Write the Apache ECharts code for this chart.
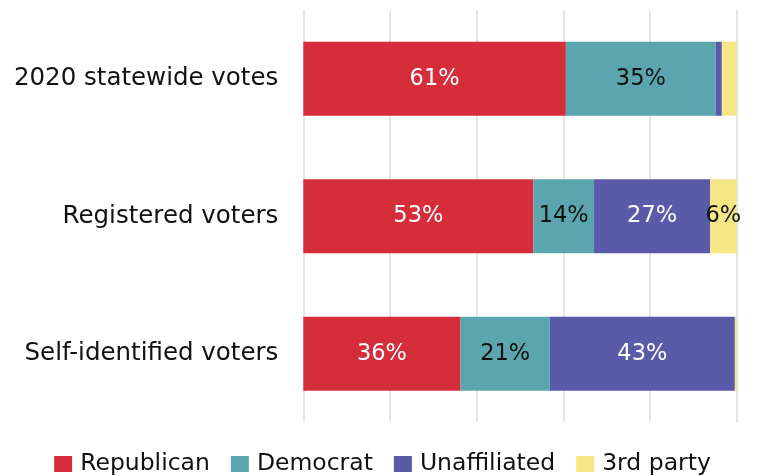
<!DOCTYPE html>
<html><head><meta charset="utf-8">
<script src="https://cdn.jsdelivr.net/npm/echarts@6/dist/echarts.min.js"></script>
<style>html,body{margin:0;padding:0;background:#fff}#c{width:765px;height:476px}</style>
</head><body><div id="c"></div>
<script>
const categories = ['2020 statewide votes', 'Registered voters', 'Self-identified voters'];
const seriesNames = ['Republican', 'Democrat', 'Unaffiliated', '3rd party'];
const republican = [60.6, 53.1, 36.3];
const democrat = [34.6, 14.0, 20.6];
const unaffiliated = [1.4, 26.8, 42.7];
const thirdParty = [3.4, 6.1, 0.4];
const xTicks = [0, 20, 40, 60, 80, 100];

const colors = ['#d62d3b', '#5ba6ae', '#5a5ba8', '#f5e884'];
const labelColors = ['#ffffff', '#111111', '#ffffff', '#111111'];
const values = [republican, democrat, unaffiliated, thirdParty];
const FONT = 'DejaVu Sans';

const chart = echarts.init(document.getElementById('c'));
chart.setOption({
  animation: false,
  textStyle: {fontFamily: FONT},
  grid: {left: 303.3, width: 433.3, top: 10, height: 412.5, containLabel: false},
  legend: {
    top: 447, left: 'center',
    itemWidth: 18, itemHeight: 16, itemGap: 21,
    icon: 'rect',
    textStyle: {fontFamily: FONT, fontSize: 23.5, color: '#111', padding: [0, 0, 0, 3]},
    data: seriesNames
  },
  xAxis: {
    type: 'value', min: xTicks[0], max: xTicks[xTicks.length - 1], interval: 20,
    axisLabel: {show: false}, axisLine: {show: false}, axisTick: {show: false},
    splitLine: {lineStyle: {color: '#dcdcdc', width: 1.5}}
  },
  yAxis: {
    type: 'category', data: categories, inverse: true,
    axisLine: {show: false}, axisTick: {show: false},
    axisLabel: {fontFamily: FONT, fontSize: 24.5, color: '#111', margin: 25}
  },
  series: seriesNames.map((n, i) => ({
    name: n, type: 'bar', stack: 'all', barWidth: 74,
    itemStyle: {color: colors[i]},
    data: values[i],
    label: {
      show: true, position: 'inside', fontFamily: FONT, fontSize: 22.5, color: labelColors[i],
      formatter: p => p.value >= 5 ? Math.round(p.value) + '%' : ''
    }
  }))
});
</script></body></html>
